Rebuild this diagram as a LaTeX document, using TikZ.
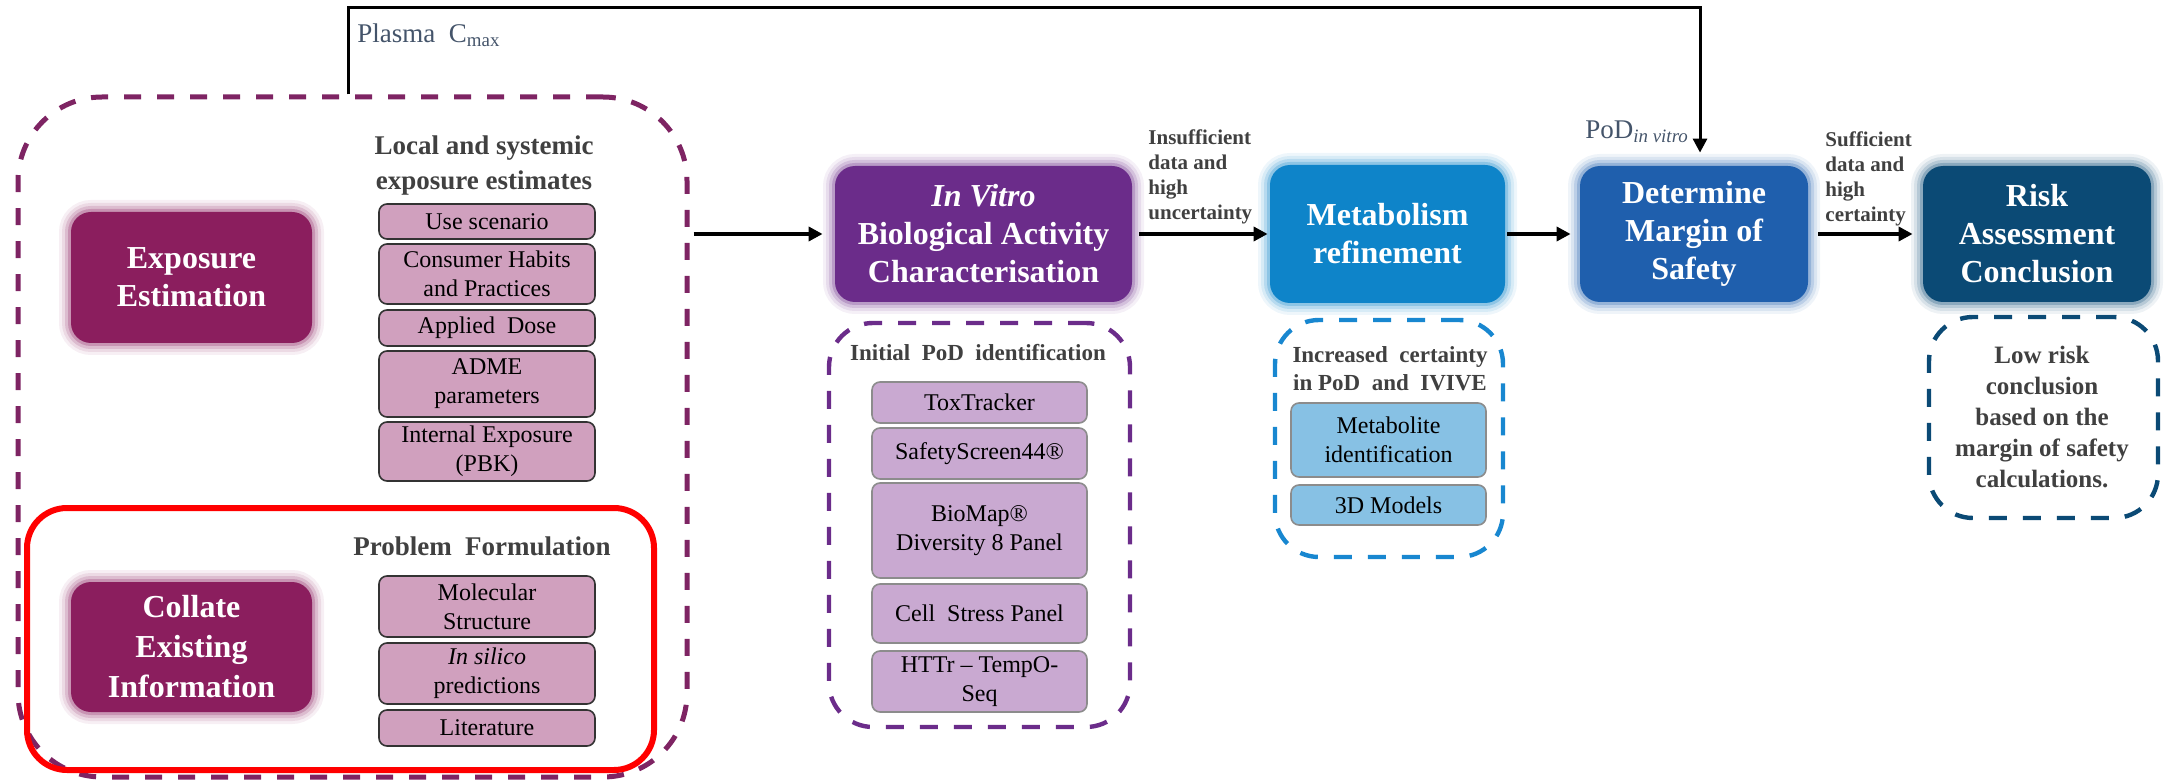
\documentclass[tikz,border=0pt]{standalone}
\usepackage{fontspec}
\setmainfont{Liberation Serif}
\newfontfamily\tnr{Liberation Serif}
\usetikzlibrary{arrows.meta}
\definecolor{plum}{HTML}{8B1E5E}
\definecolor{plumdash}{HTML}{7E2463}
\definecolor{mauve}{HTML}{D0A0BE}
\definecolor{ivpurple}{HTML}{6B2C8A}
\definecolor{lavender}{HTML}{C9A9D1}
\definecolor{metblue}{HTML}{0E84C9}
\definecolor{metdash}{HTML}{1887D0}
\definecolor{lightblue}{HTML}{87C1E4}
\definecolor{detblue}{HTML}{1F5FAD}
\definecolor{riskblue}{HTML}{0B4A75}
\definecolor{hdrgray}{HTML}{404040}
\definecolor{plasmablue}{HTML}{44546A}
\tikzset{
  glow/.style={preaction={draw=#1, opacity=0.07, line width=12pt},
               preaction={draw=#1, opacity=0.10, line width=9pt},
               preaction={draw=#1, opacity=0.16, line width=6pt},
               preaction={draw=#1, opacity=0.25, line width=3pt}},
  mainbox/.style={rounded corners=10pt, fill=#1, text=white, glow=#1,
    font=\tnr\fontsize{16}{19}\selectfont\bfseries, align=center, inner sep=0pt, minimum height=68pt},
  subbox/.style={draw=#1, line width=0.8pt, rounded corners=4pt, inner sep=0pt, align=center,
    font=\tnr\fontsize{12}{14.5}\selectfont},
  expsub/.style={subbox=black!80, fill=mauve, minimum width=108pt},
  ivsub/.style={subbox=black!45, fill=lavender, minimum width=107.5pt},
  metsub/.style={subbox=black!45, fill=lightblue, minimum width=97.5pt},
  frame/.style={draw=#1, dash pattern=on 9pt off 8pt, line width=2.2pt, inner sep=0pt},
  hdr/.style={text=hdrgray, align=center, inner sep=0pt},
  lbl/.style={text=hdrgray, align=left, inner sep=0pt, anchor=west,
    font=\tnr\fontsize{10.5}{12.5}\selectfont\bfseries},
  arr/.style={line width=1.8pt, -{Triangle[length=7pt,width=7pt]}},
}
\begin{document}
\begin{tikzpicture}[x=0.5pt,y=-0.5pt]
\useasboundingbox (0,0) rectangle (2166,780);
% frames
\node[frame=plumdash, dash pattern=on 8.5pt off 8pt, line width=2.5pt, rounded corners=42pt,
  minimum width=334.5pt, minimum height=340pt] (expframe) at (352.5,437) {};
\node[draw=red, line width=3pt, rounded corners=20pt, minimum width=313.5pt, minimum height=131pt]
  (redframe) at (340.5,639) {};
\node[frame=ivpurple, rounded corners=22pt, minimum width=150.5pt, minimum height=202pt] (ivframe) at (979.5,525) {};
\node[frame=metdash, rounded corners=22pt, minimum width=114pt, minimum height=118.5pt] (metframe) at (1389,438.5) {};
\node[frame=riskblue, rounded corners=22pt, minimum width=114.5pt, minimum height=100.5pt] (riskframe) at (2043.5,417.5) {};
% main boxes
\node[mainbox=plum, minimum width=120.5pt, minimum height=65.5pt] (expo) at (191.5,277.5) {Exposure\\Estimation};
\node[mainbox=plum, minimum width=120.5pt, minimum height=65pt, font=\tnr\fontsize{16}{20}\selectfont\bfseries] (coll) at (191.5,647) {Collate\\Existing\\Information};
\node[mainbox=ivpurple, minimum width=148.5pt] (iv) at (983.5,234) {\textit{In Vitro}\\Biological Activity\\Characterisation};
\node[mainbox=metblue, minimum width=117.5pt, minimum height=69pt] (met) at (1387.5,234) {Metabolism\\refinement};
\node[mainbox=detblue, minimum width=114pt] (det) at (1694,234) {Determine\\Margin of\\Safety};
\node[mainbox=riskblue, minimum width=114pt] (risk) at (2037,234) {Risk\\Assessment\\Conclusion};
% headers
\node[hdr, font=\tnr\fontsize{13.5}{17.5}\selectfont\bfseries] (hlocal) at (484,165.5) {Local and systemic\\exposure estimates};
\node[hdr, font=\tnr\fontsize{13.5}{17.5}\selectfont\bfseries] (hprob) at (482,546) {Problem~~Formulation};
\node[hdr, font=\tnr\fontsize{11.5}{14}\selectfont\bfseries] (hinit) at (978,353) {Initial~~PoD~~identification};
\node[hdr, font=\tnr\fontsize{11.5}{14}\selectfont\bfseries] (hinc) at (1390,369) {Increased~~certainty\\in PoD~~and~~IVIVE};
\node[hdr, font=\tnr\fontsize{12.5}{15.5}\selectfont\bfseries] (lowrisk) at (2042,417) {Low risk\\conclusion\\based on the\\margin of safety\\calculations.};
% exposure sub boxes
\node[expsub, minimum height=17.5pt] (us) at (487,221.5) {Use scenario};
\node[expsub, minimum height=30pt] (chp) at (487,274) {Consumer Habits\\and Practices};
\node[expsub, minimum height=18pt] (ad) at (487,328) {Applied~~Dose};
\node[expsub, minimum height=33pt] (adme) at (487,384) {ADME\\parameters};
\node[expsub, minimum height=29.5pt] (ie) at (487,451.5) {Internal Exposure\\(PBK)};
\node[expsub, minimum height=30.5pt] (ms) at (487,606.5) {Molecular\\Structure};
\node[expsub, minimum height=30.5pt] (isp) at (487,673.5) {\textit{In silico}\\predictions};
\node[expsub, minimum height=18pt] (lit) at (487,728) {Literature};
% in vitro sub boxes
\node[ivsub, minimum height=20.5pt] (tox) at (979.5,402.5) {ToxTracker};
\node[ivsub, minimum height=25.5pt] (ss) at (979.5,453.5) {SafetyScreen44®};
\node[ivsub, minimum height=47.5pt] (bm) at (979.5,530.5) {BioMap®\\Diversity 8 Panel};
\node[ivsub, minimum height=29.5pt] (csp) at (979.5,613.5) {Cell~~Stress Panel};
\node[ivsub, minimum height=30.5pt] (httr) at (979.5,681.5) {HTTr – TempO-\\Seq};
% metabolism sub boxes
\node[metsub, minimum height=37pt] (mi) at (1388.5,440) {Metabolite\\identification};
\node[metsub, minimum height=20pt] (m3d) at (1388.5,505) {3D Models};
% labels
\node[lbl] (insuf) at (1148,176.5) {Insufficient\\data and\\high\\uncertainty};
\node[lbl] (suf) at (1825,178.5) {Sufficient\\data and\\high\\certainty};
\node[anchor=west, inner sep=0pt, text=plasmablue, font=\tnr\fontsize{13.5}{16}\selectfont] (plasma) at (357,35) {Plasma~~C\textsubscript{max}};
\node[anchor=west, inner sep=0pt, text=plasmablue, font=\tnr\fontsize{13.5}{16}\selectfont] (pod) at (1585,132) {PoD\textsubscript{\itshape in vitro}};
% connectors
\coordinate (topy) at (0,8);
\coordinate (expout) at ([xshift=-2.25pt]expframe.north);
\coordinate (detin) at ([xshift=3pt]det.north);
\draw[arr, line width=1.5pt, shorten >=6.5pt] (expout) |- (detin |- topy) -- (detin);
\draw[arr, shorten <=2pt, shorten >=6pt] (expframe.east |- iv.west) -- (iv.west);
\draw[arr, shorten <=3.5pt, shorten >=1pt] (iv.east) -- (met.west);
\draw[arr, shorten <=1pt, shorten >=4.5pt] (met.east) -- (det.west);
\draw[arr, shorten <=5pt, shorten >=5pt] (det.east) -- (risk.west);
\end{tikzpicture}
\end{document}
